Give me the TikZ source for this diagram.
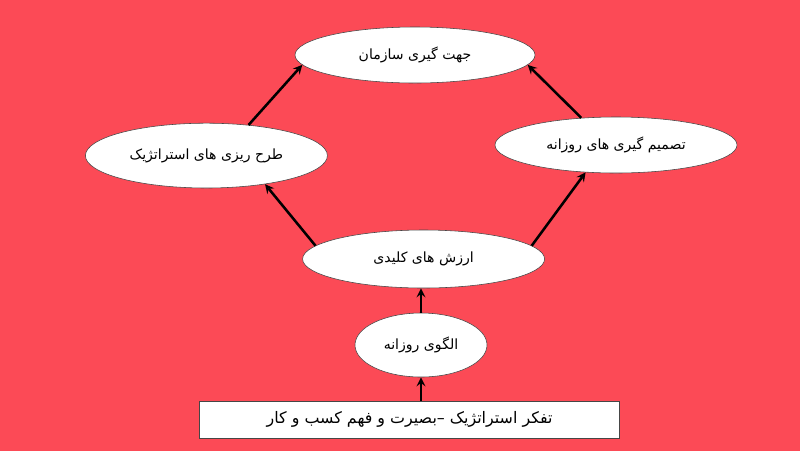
\documentclass[tikz,border=0pt]{standalone}
\usepackage{fontspec}
\usepackage{xcolor}
\usepackage{tikz}
\usetikzlibrary{shapes.geometric, arrows, positioning}
\TeXXeTstate=1
\newfontfamily\farsifont[Script=Arabic]{DejaVu Sans}
\definecolor{bgred}{RGB}{252, 74, 86}
\definecolor{edgegray}{RGB}{70, 70, 70}

\begin{document}
\begin{tikzpicture}[
    oval/.style={ellipse, draw=edgegray, fill=white, inner sep=0pt, minimum width=6.05cm, minimum height=1.45cm, font=\farsifont\normalsize},
    box/.style={rectangle, draw=edgegray, fill=white, inner sep=0pt, minimum width=10.5cm, minimum height=0.92cm, font=\farsifont\fontsize{11.3}{13}\selectfont},
    arrow/.style={->, line width=1.8pt, >=stealth}
]
    % background
    \fill[bgred] (0,0) rectangle (20,-11.275);
    \useasboundingbox (0,0) rectangle (20,-11.275);

    % nodes
    \node[oval, minimum width=6cm, minimum height=1.4cm] (goal) at (10.375,-1.375) {\beginR جهت گیری سازمان\endR};
    \node[oval, minimum height=1.62cm] (plan) at (5.16,-3.89) {\beginR طرح ریزی های استراتژیک\endR};
    \node[oval, minimum height=1.4cm] (daily) at (15.4,-3.625) {\beginR تصمیم گیری های روزانه\endR};
    \node[oval] (values) at (10.59,-6.475) {\beginR ارزش های کلیدی\endR};
    \node[oval, minimum width=3.3cm, minimum height=1.6cm] (pattern) at (10.525,-8.625) {\beginR الگوی روزانه\endR};
    \node[box] (base) at (10.24,-10.49) {\beginR تفکر استراتژیک –بصیرت و فهم کسب و کار\endR};

    % arrows
    \draw[arrow] (base.north -| pattern) -- (pattern.south);
    \draw[arrow] (pattern.north) -- (values.south -| pattern);
    \draw[arrow] (values.173) -- (plan.-26);
    \draw[arrow] (values.7) -- (daily.-138);
    \draw[arrow] (plan.36) -- (goal.185);
    \draw[arrow] (daily.142) -- (goal.-5);
\end{tikzpicture}
\end{document}
